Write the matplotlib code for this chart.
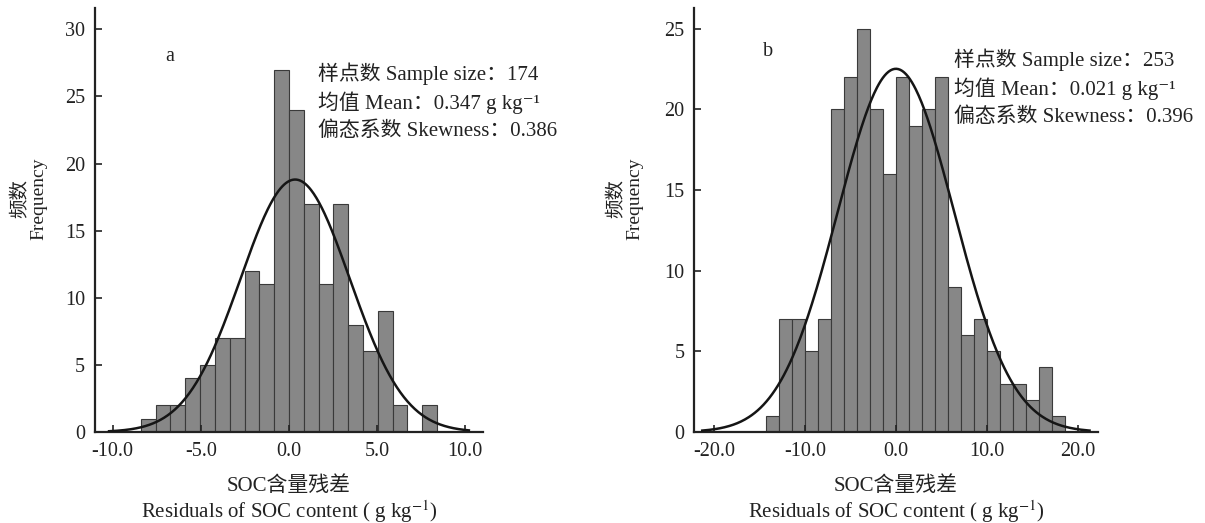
import numpy as np
import matplotlib
matplotlib.use("Agg")
import matplotlib.pyplot as plt
from matplotlib.ticker import FuncFormatter

plt.rcParams['font.family'] = ['Liberation Serif', 'Noto Sans CJK SC', 'DejaVu Serif']
plt.rcParams['mathtext.fontset'] = 'stix'

# Panel a: residual histogram (counts per bin)
edges_a_start = -8.4
width_a = 0.84
counts_a = [1, 2, 2, 4, 5, 7, 7, 12, 11, 27, 24, 17, 11, 17, 8, 6, 9, 2, 0, 2]
mean_a, sd_a = 0.35, 3.1
n_a = 174
xticks_a = [-10.0, -5.0, 0.0, 5.0, 10.0]
yticks_a = [0, 5, 10, 15, 20, 25, 30]
text_a = ["样点数 Sample size：174",
          "均值 Mean：0.347 g kg⁻¹",
          "偏态系数 Skewness：0.386"]

# Panel b
edges_b_start = -14.25
width_b = 1.428
counts_b = [1, 7, 7, 5, 7, 20, 22, 25, 20, 16, 22, 19, 20, 22, 9, 6, 7, 5, 3, 3, 2, 4, 1]
mean_b, sd_b = 0.0, 6.4
n_b = 253
xticks_b = [-20.0, -10.0, 0.0, 10.0, 20.0]
yticks_b = [0, 5, 10, 15, 20, 25]
text_b = ["样点数 Sample size：253",
          "均值 Mean：0.021 g kg⁻¹",
          "偏态系数 Skewness：0.396"]

ylabel = "频数\nFrequency"
xlabel = "SOC含量残差\nResiduals of SOC content ( g kg$^{-1}$)"

fig = plt.figure(figsize=(12.05, 5.23), dpi=100)
ax_a = fig.add_axes([0.0788, 0.174, 0.322, 0.811])
ax_b = fig.add_axes([0.576, 0.174, 0.335, 0.811])


def draw(ax, start, w, counts, mu, sd, n, xlim, ylim, xticks, yticks,
         letter, letter_pos, lines, text_pos, curve_span):
    counts = np.array(counts)
    lefts = start + w * np.arange(len(counts))
    ax.bar(lefts, counts, width=w, align='edge', color='#878787',
           edgecolor='#3a3a3a', linewidth=0.8, zorder=1)
    xs = np.linspace(-curve_span, curve_span, 400)
    ys = n * w / (sd * np.sqrt(2 * np.pi)) * np.exp(-(xs - mu) ** 2 / (2 * sd ** 2))
    ax.plot(xs, ys, color='#151515', linewidth=1.8, zorder=3)
    ax.set_xlim(*xlim)
    ax.set_ylim(*ylim)
    ax.set_xticks(xticks)
    ax.set_yticks(yticks)
    ax.xaxis.set_major_formatter(FuncFormatter(lambda v, p: f"{v:.1f}"))
    for s in ['top', 'right']:
        ax.spines[s].set_visible(False)
    for s in ['left', 'bottom']:
        ax.spines[s].set_linewidth(1.6)
        ax.spines[s].set_color('#222222')
    ax.tick_params(direction='in', length=5, width=1.2, labelsize=14.5,
                   colors='#222222', pad=7)
    ax.text(letter_pos[0], letter_pos[1], letter, transform=ax.transAxes,
            fontsize=14.5, ha='left', va='center', color='#222222')
    for i, line in enumerate(lines):
        ax.text(text_pos[0], text_pos[1] - i * 0.067, line, transform=ax.transAxes,
                fontsize=15, ha='left', va='center', color='#222222')
    ax.set_ylabel(ylabel, fontsize=14, color='#222222', linespacing=1.05)
    ax.set_xlabel(xlabel, fontsize=15, color='#222222', linespacing=1.1)


draw(ax_a, edges_a_start, width_a, counts_a, mean_a, sd_a, n_a,
     (-11.0, 11.0), (0, 31.6), xticks_a, yticks_a,
     'a', (0.18, 0.885), text_a, (0.575, 0.844), 10.2)
draw(ax_b, edges_b_start, width_b, counts_b, mean_b, sd_b, n_b,
     (-22.2, 22.2), (0, 26.3), xticks_b, yticks_b,
     'b', (0.171, 0.896), text_b, (0.644, 0.877), 21.3)

ax_a.yaxis.set_label_coords(-0.122, 0.55)
ax_b.yaxis.set_label_coords(-0.126, 0.55)
ax_a.xaxis.set_label_coords(0.5, -0.105)
ax_b.xaxis.set_label_coords(0.5, -0.105)

fig.savefig('out.png', dpi=100)
